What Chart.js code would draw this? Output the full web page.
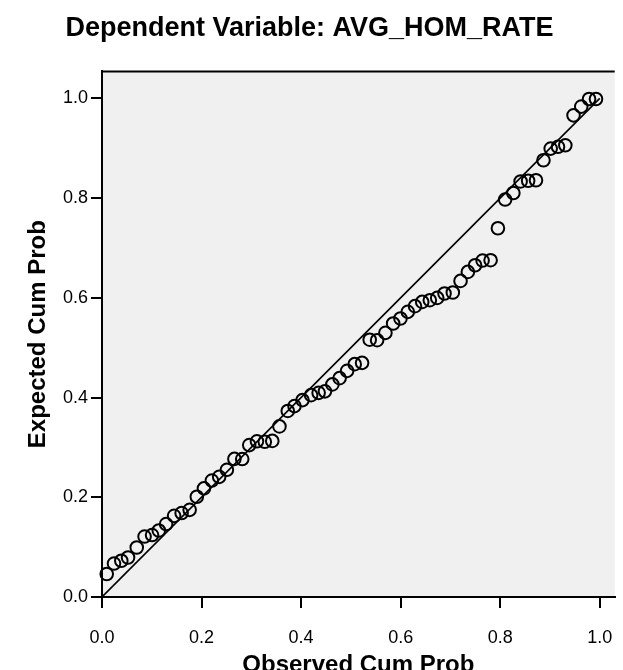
<!doctype html>
<html>

<head>
	<title>Normal P-P Plot</title>
	<script src="https://cdn.jsdelivr.net/npm/chart.js@4"></script>
	<style>
		body { margin: 0; overflow: hidden; background: #fff; }
	</style>
</head>

<body>
	<canvas id="chart-area" width="623" height="690"></canvas>
	<script>
		// observed vs expected cumulative probabilities
		var observedCum = [
			0.0095, 0.0241, 0.0388, 0.0523, 0.0698, 0.0855, 0.1006, 0.1141, 0.1288, 0.1449,
			0.1600, 0.1761, 0.1905, 0.2048, 0.2207, 0.2354, 0.2509, 0.2660, 0.2817, 0.2958,
			0.3113, 0.3270, 0.3421, 0.3565, 0.3732, 0.3867, 0.4028, 0.4201, 0.4352, 0.4479,
			0.4628, 0.4773, 0.4924, 0.5077, 0.5225, 0.5378, 0.5527, 0.5694, 0.5849, 0.5996,
			0.6143, 0.6288, 0.6433, 0.6586, 0.6734, 0.6881, 0.7048, 0.7203, 0.7350, 0.7495,
			0.7646, 0.7807, 0.7954, 0.8099, 0.8264, 0.8410, 0.8561, 0.8719, 0.8869, 0.9014,
			0.9161, 0.9308, 0.9473, 0.9628, 0.9785, 0.9924
		];
		var expectedCum = [
			0.0461, 0.0671, 0.0727, 0.0792, 0.0992, 0.1212, 0.1242, 0.1333, 0.1463, 0.1627,
			0.1683, 0.1748, 0.2010, 0.2178, 0.2335, 0.2409, 0.2551, 0.2769, 0.2766, 0.3046,
			0.3122, 0.3112, 0.3130, 0.3421, 0.3731, 0.3828, 0.3948, 0.4048, 0.4094, 0.4124,
			0.4263, 0.4389, 0.4535, 0.4669, 0.4695, 0.5160, 0.5150, 0.5297, 0.5485, 0.5585,
			0.5718, 0.5832, 0.5918, 0.5952, 0.5998, 0.6086, 0.6106, 0.6339, 0.6519, 0.6653,
			0.6747, 0.6754, 0.7395, 0.7970, 0.8102, 0.8333, 0.8347, 0.8357, 0.8758, 0.8992,
			0.9028, 0.9058, 0.9659, 0.9834, 0.9986, 0.9986
		];
		var refLine = [0, 1];
		var tickValues = [0, 0.2, 0.4, 0.6, 0.8, 1.0];

		var fontFamily = 'Arial, "Liberation Sans", sans-serif';

		var points = observedCum.map(function(x, i) {
			return { x: x, y: expectedCum[i] };
		});

		var plotFrame = {
			id: 'plotFrame',
			beforeDraw: function(chart) {
				var a = chart.chartArea, ctx = chart.ctx;
				ctx.save();
				ctx.fillStyle = '#f0f0f0';
				ctx.fillRect(a.left, a.top, a.right - a.left, a.bottom - a.top);
				ctx.restore();
			},
			afterDraw: function(chart) {
				var a = chart.chartArea, ctx = chart.ctx;
				ctx.save();
				ctx.strokeStyle = '#000';
				ctx.lineWidth = 2;
				ctx.beginPath();
				ctx.moveTo(a.left - 1, a.top);
				ctx.lineTo(a.right, a.top);
				ctx.stroke();
				ctx.restore();
			}
		};

		var fixedTicks = function(axis) {
			axis.ticks = tickValues.map(function(v) { return { value: v }; });
		};

		var config = {
			type: 'scatter',
			data: {
				datasets: [{
					type: 'line',
					data: refLine.map(function(v) { return { x: v, y: v }; }),
					borderColor: '#000',
					borderWidth: 1.6,
					pointRadius: 0,
					fill: false
				}, {
					data: points,
					pointStyle: 'circle',
					pointRadius: 6.3,
					pointBorderWidth: 2,
					borderColor: '#000',
					backgroundColor: 'rgba(0,0,0,0)',
					clip: false
				}]
			},
			options: {
				responsive: false,
				animation: false,
				devicePixelRatio: 1,
				layout: { padding: { left: 0, right: 4, top: 0, bottom: 0 } },
				plugins: {
					legend: { display: false },
					tooltip: { enabled: false },
					title: {
						display: true,
						text: 'Dependent Variable: AVG_HOM_RATE',
						color: '#000',
						font: { family: fontFamily, size: 27, weight: 'bold' },
						padding: { top: 12, bottom: 27 }
					}
				},
				scales: {
					x: {
						type: 'linear',
						min: 0,
						max: 1.03,
						afterBuildTicks: fixedTicks,
						afterFit: function(axis) {
							axis.height = 93;
							axis.paddingRight = 0;
						},
						border: { display: true, color: '#000', width: 2 },
						grid: { drawOnChartArea: false, color: '#000', lineWidth: 2, tickLength: 11 },
						ticks: {
							color: '#000',
							padding: 19,
							maxRotation: 0,
							font: { family: fontFamily, size: 18 },
							callback: function(v) { return v.toFixed(1); }
						},
						title: {
							display: true,
							text: 'Observed Cum Prob',
							color: '#000',
							font: { family: fontFamily, size: 24, weight: 'bold' },
							padding: { top: 0, bottom: 10 }
						}
					},
					y: {
						type: 'linear',
						min: 0,
						max: 1.054,
						afterBuildTicks: fixedTicks,
						afterFit: function(axis) { axis.width = 102; },
						border: { display: true, color: '#000', width: 2 },
						grid: { drawOnChartArea: false, color: '#000', lineWidth: 2, tickLength: 11 },
						ticks: {
							color: '#000',
							padding: 3,
							font: { family: fontFamily, size: 18 },
							callback: function(v) { return v.toFixed(1); }
						},
						title: {
							display: true,
							text: 'Expected Cum Prob',
							color: '#000',
							font: { family: fontFamily, size: 24, weight: 'bold' },
							padding: { top: 24, bottom: 0 }
						}
					}
				}
			},
			plugins: [plotFrame]
		};

		window.onload = function() {
			var ctx = document.getElementById('chart-area').getContext('2d');
			window.myScatter = new Chart(ctx, config);
		};
	</script>
</body>

</html>
